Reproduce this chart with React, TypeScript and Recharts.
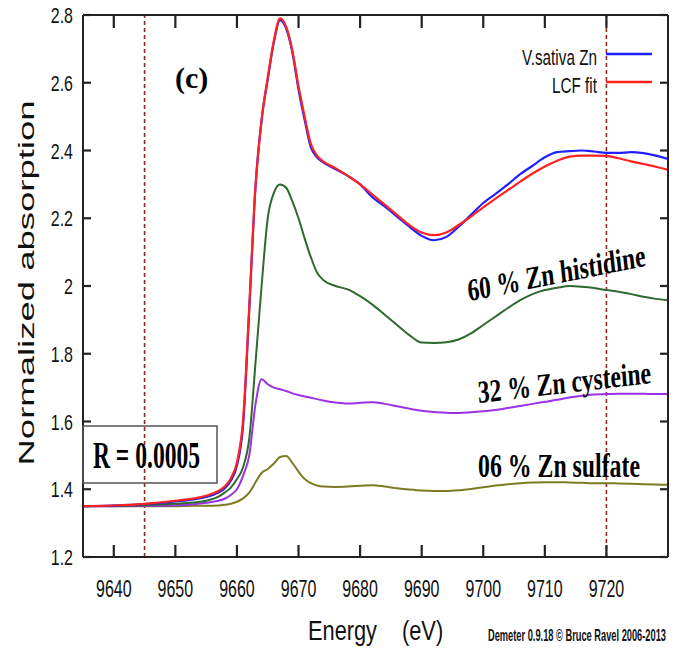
import React from "react";
import { LineChart, Line, XAxis, YAxis, ReferenceLine } from "recharts";

const energy = [9635, 9640, 9645, 9650, 9653, 9655, 9657, 9658, 9659, 9660, 9661, 9662, 9663, 9664, 9665, 9666, 9667, 9668, 9669, 9670, 9671, 9672, 9673, 9674, 9676, 9678, 9680, 9682, 9684, 9686, 9688, 9690, 9692, 9694, 9696, 9698, 9700, 9702, 9704, 9706, 9708, 9710, 9712, 9714, 9716, 9718, 9720, 9722, 9724, 9726, 9728, 9730];

const vSativa = [1.350, 1.352, 1.356, 1.364, 1.370, 1.377, 1.390, 1.402, 1.425, 1.470, 1.590, 1.930, 2.290, 2.490, 2.610, 2.720, 2.785, 2.760, 2.690, 2.580, 2.490, 2.410, 2.380, 2.365, 2.345, 2.325, 2.300, 2.262, 2.235, 2.205, 2.175, 2.148, 2.135, 2.145, 2.175, 2.210, 2.245, 2.272, 2.300, 2.330, 2.355, 2.380, 2.395, 2.398, 2.400, 2.397, 2.393, 2.393, 2.395, 2.392, 2.385, 2.375];

const lcfFit = [1.350, 1.352, 1.357, 1.366, 1.373, 1.381, 1.395, 1.408, 1.432, 1.480, 1.605, 1.940, 2.290, 2.490, 2.615, 2.725, 2.790, 2.765, 2.695, 2.590, 2.500, 2.420, 2.385, 2.368, 2.348, 2.325, 2.300, 2.270, 2.240, 2.210, 2.180, 2.158, 2.150, 2.158, 2.180, 2.205, 2.232, 2.258, 2.283, 2.308, 2.332, 2.353, 2.370, 2.382, 2.385, 2.385, 2.384, 2.377, 2.368, 2.360, 2.352, 2.343];

const znHistidine = [1.350, 1.351, 1.353, 1.357, 1.361, 1.366, 1.378, 1.390, 1.405, 1.430, 1.465, 1.550, 1.770, 2.000, 2.200, 2.275, 2.300, 2.290, 2.250, 2.200, 2.140, 2.085, 2.040, 2.018, 2.000, 1.990, 1.970, 1.945, 1.915, 1.885, 1.855, 1.833, 1.832, 1.834, 1.842, 1.860, 1.885, 1.910, 1.935, 1.958, 1.976, 1.988, 1.995, 2.000, 1.998, 1.994, 1.988, 1.983, 1.976, 1.968, 1.962, 1.958];

const znCysteine = [1.350, 1.350, 1.351, 1.353, 1.356, 1.360, 1.366, 1.372, 1.383, 1.400, 1.440, 1.500, 1.650, 1.725, 1.710, 1.700, 1.695, 1.690, 1.683, 1.678, 1.674, 1.670, 1.666, 1.662, 1.656, 1.653, 1.655, 1.657, 1.652, 1.645, 1.638, 1.632, 1.628, 1.626, 1.625, 1.627, 1.630, 1.634, 1.640, 1.646, 1.652, 1.658, 1.664, 1.671, 1.676, 1.680, 1.681, 1.682, 1.682, 1.682, 1.681, 1.681];

const znSulfate = [1.350, 1.350, 1.350, 1.350, 1.351, 1.351, 1.352, 1.354, 1.357, 1.363, 1.373, 1.390, 1.420, 1.448, 1.460, 1.476, 1.495, 1.498, 1.478, 1.452, 1.430, 1.418, 1.411, 1.408, 1.407, 1.408, 1.410, 1.412, 1.408, 1.403, 1.399, 1.396, 1.395, 1.395, 1.397, 1.401, 1.406, 1.411, 1.415, 1.418, 1.420, 1.421, 1.421, 1.420, 1.419, 1.418, 1.418, 1.417, 1.416, 1.415, 1.414, 1.413];

const xTicks = [9640, 9650, 9660, 9670, 9680, 9690, 9700, 9710, 9720];
const yTicks = [1.2, 1.4, 1.6, 1.8, 2, 2.2, 2.4, 2.6, 2.8];
const dashedEnergies = [9645, 9720];

const data = energy.map((e, i) => ({
  e,
  vs: vSativa[i],
  fit: lcfFit[i],
  his: znHistidine[i],
  cys: znCysteine[i],
  sul: znSulfate[i],
}));

const FRAME = "#222";
const SANS = "'Liberation Sans', Arial, sans-serif";
const SERIF = "'Liberation Serif', 'Times New Roman', serif";

const BottomTick = (p: any) => {
  const { x, y, payload } = p;
  return (
    <g>
      <line x1={x} y1={y} x2={x} y2={y - 12} stroke={FRAME} strokeWidth={2.2} />
      <text
        transform={`translate(${x},${y + 40}) scale(1,1.45)`}
        textAnchor="middle"
        fontSize={16}
        fontFamily={SANS}
        fill="#111"
      >
        {payload.value}
      </text>
    </g>
  );
};

const TopTick = (p: any) => {
  const { x, y } = p;
  return <line x1={x} y1={y} x2={x} y2={y + 13} stroke={FRAME} strokeWidth={2.2} />;
};

const LeftTick = (p: any) => {
  const { x, y, payload } = p;
  return (
    <g>
      <line x1={x} y1={y} x2={x + 8} y2={y} stroke={FRAME} strokeWidth={2.2} />
      <text
        transform={`translate(${x - 10},${y + 8}) scale(1,1.4)`}
        textAnchor="end"
        fontSize={16}
        fontFamily={SANS}
        fill="#111"
      >
        {String(payload.value)}
      </text>
    </g>
  );
};

const RightTick = (p: any) => {
  const { x, y } = p;
  return <line x1={x} y1={y} x2={x - 8} y2={y} stroke={FRAME} strokeWidth={2.2} />;
};

export default function App() {
  return (
    <div style={{ position: "absolute", left: 0, top: 0, width: 686, height: 656, background: "#fff" }}>
      <LineChart
        width={686}
        height={656}
        data={data}
        margin={{ top: 14, right: 17, bottom: 59, left: 23 }}
      >
        <XAxis
          dataKey="e"
          type="number"
          domain={[9635, 9730]}
          ticks={xTicks}
          interval={0}
          height={40}
          tickSize={0}
          tickMargin={0}
          tickLine={false}
          axisLine={{ stroke: FRAME, strokeWidth: 2 }}
          tick={<BottomTick />}
          allowDataOverflow
        />
        <XAxis
          xAxisId="top"
          orientation="top"
          dataKey="e"
          type="number"
          domain={[9635, 9730]}
          ticks={xTicks}
          interval={0}
          height={1}
          tickSize={0}
          tickMargin={0}
          tickLine={false}
          axisLine={{ stroke: FRAME, strokeWidth: 2 }}
          tick={<TopTick />}
          allowDataOverflow
        />
        <YAxis
          type="number"
          domain={[1.2, 2.8]}
          ticks={yTicks}
          interval={0}
          width={60}
          tickSize={0}
          tickMargin={0}
          tickLine={false}
          axisLine={{ stroke: FRAME, strokeWidth: 2 }}
          tick={<LeftTick />}
          allowDataOverflow
        />
        <YAxis
          yAxisId="right"
          orientation="right"
          type="number"
          domain={[1.2, 2.8]}
          ticks={yTicks}
          interval={0}
          width={1}
          tickSize={0}
          tickMargin={0}
          tickLine={false}
          axisLine={{ stroke: FRAME, strokeWidth: 2 }}
          tick={<RightTick />}
          allowDataOverflow
        />
        {dashedEnergies.map((d) => (
          <ReferenceLine key={d} x={d} stroke="#8b2a2a" strokeWidth={1.6} strokeDasharray="4 3" />
        ))}
        <Line type="monotone" dataKey="sul" stroke="#7d7b22" strokeWidth={2} dot={false} isAnimationActive={false} />
        <Line type="monotone" dataKey="cys" stroke="#9b30e6" strokeWidth={2} dot={false} isAnimationActive={false} />
        <Line type="monotone" dataKey="his" stroke="#2d6a2d" strokeWidth={2} dot={false} isAnimationActive={false} />
        <Line type="monotone" dataKey="vs" stroke="#1f1fff" strokeWidth={2.2} dot={false} isAnimationActive={false} />
        <Line type="monotone" dataKey="fit" stroke="#ff2222" strokeWidth={2.2} dot={false} isAnimationActive={false} />
      </LineChart>

      <svg
        width={686}
        height={656}
        style={{ position: "absolute", left: 0, top: 0, pointerEvents: "none" }}
      >
        {/* Axis titles */}
        <text
          transform="translate(34,283) rotate(-90)"
          textAnchor="middle"
          fontSize={22}
          fontFamily={SANS}
          fill="#111"
          textLength={365}
          lengthAdjust="spacingAndGlyphs"
        >
          Normalized absorption
        </text>
        <text transform="translate(0,640) scale(1,1.28)" fontSize={21.8} fontFamily={SANS} fill="#111">
          <tspan x={308}>Energy</tspan>
          <tspan x={402}>(eV)</tspan>
        </text>
        <text
          transform="translate(488,641) scale(1,1.75)"
          fontSize={9.5}
          fontWeight="bold"
          fontFamily="'Liberation Sans Narrow', 'Arial Narrow', sans-serif"
          fill="#111"
          textLength={178}
          lengthAdjust="spacingAndGlyphs"
        >
          Demeter 0.9.18 © Bruce Ravel 2006-2013
        </text>

        {/* Panel letter */}
        <text x={175} y={88} fontSize={30} fontWeight="bold" fontFamily={SERIF} fill="#000">
          (c)
        </text>

        {/* R factor box */}
        <rect x={83} y={426} width={134} height={57} fill="none" stroke="#555" strokeWidth={1.5} />
        <text
          transform="translate(146.5,468) scale(1,1.6)"
          textAnchor="middle"
          fontSize={23.6}
          fontWeight="bold"
          fontFamily={SERIF}
          fill="#000"
        >
          R = 0.0005
        </text>

        {/* Component annotations */}
        <text
          transform="translate(557.5,283.5) scale(1,1.35) rotate(-8.4)"
          textAnchor="middle"
          fontSize={23.5}
          fontWeight="bold"
          fontFamily={SERIF}
          fill="#000"
        >
          60 % Zn histidine
        </text>
        <text
          transform="translate(565,393) scale(1,1.35) rotate(-4.9)"
          textAnchor="middle"
          fontSize={23.6}
          fontWeight="bold"
          fontFamily={SERIF}
          fill="#000"
        >
          32 % Zn cysteine
        </text>
        <text
          transform="translate(559,477) scale(1,1.4)"
          textAnchor="middle"
          fontSize={23.8}
          fontWeight="bold"
          fontFamily={SERIF}
          fill="#000"
        >
          06 % Zn sulfate
        </text>

        {/* Legend */}
        <text transform="translate(597,65) scale(1,1.5)" textAnchor="end" fontSize={15.3} fontFamily={SANS} fill="#111">
          V.sativa Zn
        </text>
        <line x1={606} y1={54} x2={652} y2={54} stroke="#1f1fff" strokeWidth={2.5} />
        <text transform="translate(597,93) scale(1,1.5)" textAnchor="end" fontSize={15.3} fontFamily={SANS} fill="#111">
          LCF fit
        </text>
        <line x1={606} y1={82} x2={652} y2={82} stroke="#ff2222" strokeWidth={2.5} />
      </svg>
    </div>
  );
}
